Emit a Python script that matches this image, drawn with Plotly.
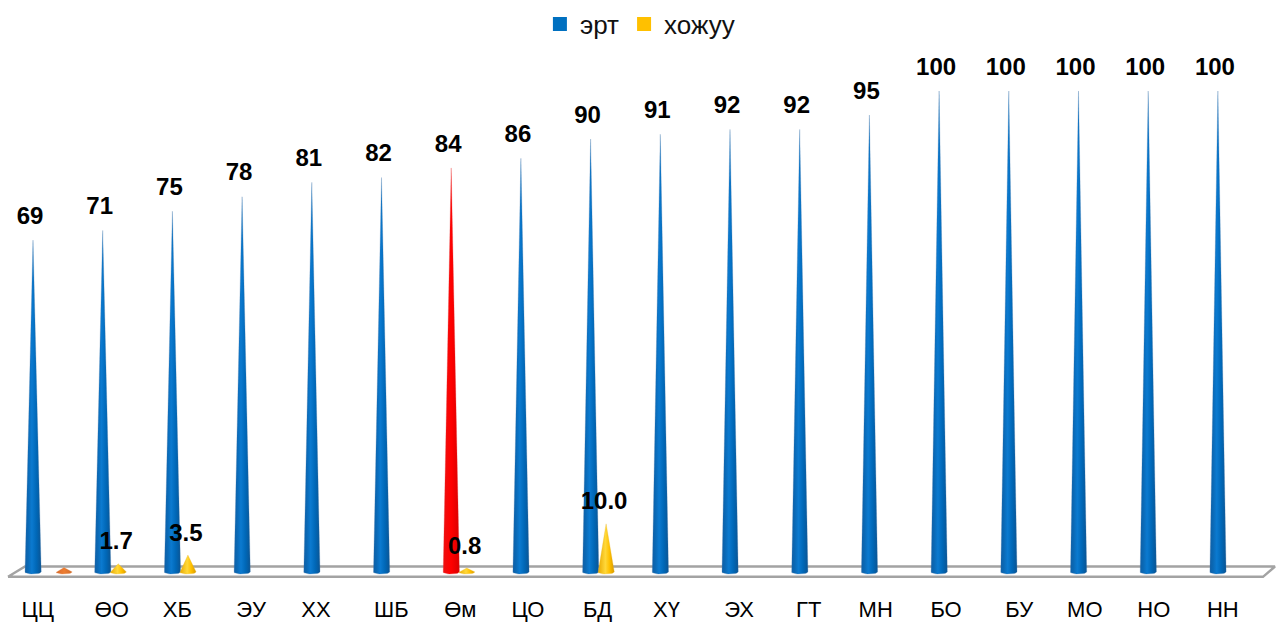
import numpy as np
import plotly.graph_objects as go

categories = ["ЦЦ","ӨО","ХБ","ЭУ","ХХ","ШБ","Өм","ЦО","БД","ХҮ","ЭХ","ГТ","МН","БО","БУ","МО","НО","НН"]
ert = [69,71,75,78,81,82,84,86,90,91,92,92,95,100,100,100,100,100]
hojuu = [None,1.7,3.5,None,None,None,0.8,None,10.0,None,None,None,None,None,None,None,None,None]
third = [0.9,None,None,None,None,None,None,None,None,None,None,None,None,None,None,None,None,None]
label_nudge = [0.07,0.13,0.07,0.13,0.06,0.14,0.13,0.10,0.10,0.09,0.13,0.13,0.09,0.10,0.15,0.09,0.08,0.07]

W, H = 1276, 622
MB = 28
PX_X = 69.7
PX_Y = 4.9
X0, Y0 = 33.0, 571.5
xrange = [(0 - X0) / PX_X, (W - X0) / PX_X]
yrange = [(Y0 - (H - MB)) / PX_Y, Y0 / PX_Y]

BLUE = [[0, "#0f5fa6"], [0.18, "#0a68b4"], [0.42, "#0b7ad0"], [0.7, "#0068b8"], [1, "#0a5493"]]
RED = [[0, "#ee1010"], [0.5, "#ff0000"], [1, "#d80000"]]
YELLOW = [[0, "#e8a800"], [0.45, "#ffd83a"], [0.7, "#ffc000"], [1, "#d89a00"]]
ORANGE = [[0, "#d8682a"], [0.5, "#ed7d31"], [1, "#d06a28"]]
EDGE = {id(BLUE): "rgba(70,120,170,0.35)", id(RED): "rgba(230,60,60,0.35)",
        id(YELLOW): "rgba(230,180,40,0.35)", id(ORANGE): "rgba(220,130,70,0.35)"}

HALF = 8.2 / PX_X
ARC = 2.2 / PX_Y
t = np.linspace(np.pi, 2 * np.pi, 15)


def cone(xc, v, scale):
    xs = np.concatenate([[xc], xc + HALF * np.cos(t), [xc]])
    ys = np.concatenate([[v], ARC * np.sin(t), [v]])
    return go.Scatter(
        x=xs, y=ys, mode="lines", line=dict(width=0.8, color=EDGE[id(scale)]), fill="toself",
        fillgradient=dict(type="horizontal", colorscale=scale),
        hoverinfo="skip", showlegend=False,
    )


def fx(px):
    return (px - X0) / PX_X


def fy(px):
    return (Y0 - px) / PX_Y


fig = go.Figure()

# floor of the 3-D chart
floor_x = [fx(8), fx(1263), fx(1275), fx(25), fx(8)]
floor_y = [fy(576.5), fy(576.5), fy(566), fy(566), fy(576.5)]
fig.add_trace(go.Scatter(x=floor_x, y=floor_y, mode="lines", line=dict(color="#a3a3a3", width=2.4),
                         hoverinfo="skip", showlegend=False))

idx = np.arange(len(categories))
for i, v in zip(idx, ert):
    fig.add_trace(cone(i, v, RED if categories[i] == "Өм" else BLUE))

OFF = 15.5 / PX_X
for i, v in zip(idx, hojuu):
    if v is not None:
        fig.add_trace(cone(i + OFF, v, YELLOW))
for i, v in zip(idx, third):
    if v is not None:
        fig.add_trace(cone(i + 2 * OFF, v, ORANGE))

LABEL_UP = 10.5 / PX_Y
label_font = dict(family="Liberation Sans", size=24, color="#000000", weight="bold")
fig.add_trace(go.Scatter(x=idx - 3 / PX_X, y=np.array(ert) + LABEL_UP, mode="text",
                         text=[str(v) for v in ert], textposition="top center",
                         textfont=label_font, hoverinfo="skip", showlegend=False))
hx = [i + OFF - 2 / PX_X for i, v in zip(idx, hojuu) if v is not None]
hy = [v + 8.5 / PX_Y for v in hojuu if v is not None]
ht = [f"{v:.1f}" for v in hojuu if v is not None]
fig.add_trace(go.Scatter(x=hx, y=hy, mode="text", text=ht, textposition="top center",
                         textfont=label_font, hoverinfo="skip", showlegend=False))

# legend entries
for name, color in [("эрт", "#0070c0"), ("хожуу", "#ffc000")]:
    fig.add_trace(go.Scatter(x=[None], y=[None], mode="markers", name=name,
                             marker=dict(symbol="square", size=14, color=color)))

fig.update_layout(
    width=W, height=H,
    margin=dict(l=0, r=0, t=0, b=MB),
    paper_bgcolor="#ffffff", plot_bgcolor="#ffffff",
    font=dict(family="Liberation Sans", color="#000000"),
    legend=dict(orientation="h", x=0.5015, xanchor="center", y=1.018, yanchor="top",
                font=dict(size=26, family="Liberation Sans", color="#111111"),
                tracegroupgap=0, bgcolor="rgba(0,0,0,0)"),
    xaxis=dict(range=xrange, tickmode="array", tickvals=list(idx + np.array(label_nudge)),
               ticktext=categories, showgrid=False, zeroline=False, showline=False, ticks="",
               tickfont=dict(size=22, family="Liberation Sans", color="#000000"), fixedrange=True),
    yaxis=dict(range=yrange, visible=False, showgrid=False, zeroline=False, fixedrange=True),
    showlegend=True,
)
fig.write_html("out.html", config={"displayModeBar": False},
               post_script="document.body.style.margin='0';document.body.style.overflow='hidden';")
